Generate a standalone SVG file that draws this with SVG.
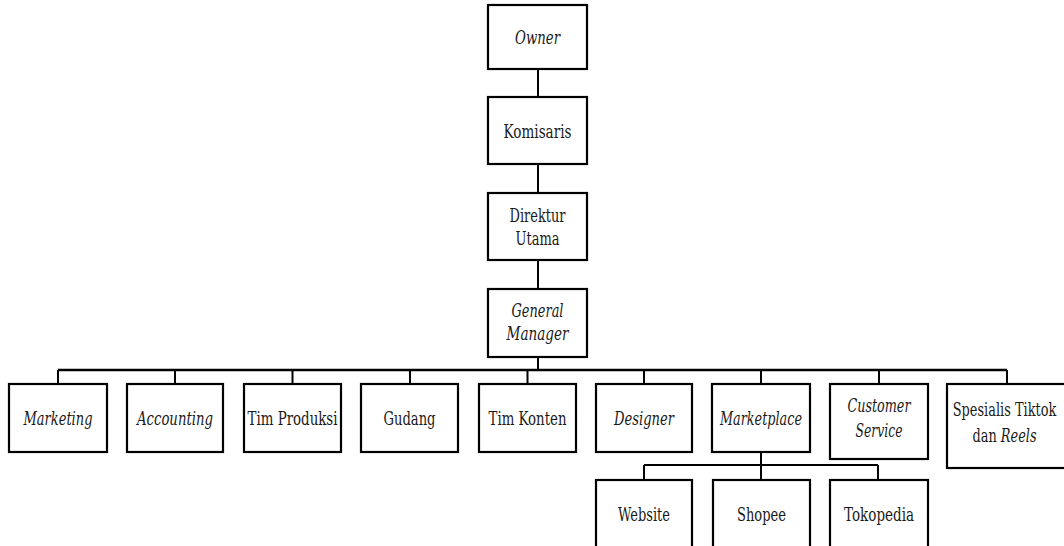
<svg xmlns="http://www.w3.org/2000/svg" width="1064" height="546" viewBox="0 0 1064 546">
<style>
  .box { fill: #ffffff; stroke: #000000; stroke-width: 2.2; }
  .ln { fill: none; stroke: #000000; stroke-width: 2; }
  .bus { fill: none; stroke: #000000; stroke-width: 2.6; }
  text { font-family: "DejaVu Serif", "Liberation Serif", serif; font-size: 19px; fill: #1a1a1a; text-anchor: middle; }
  .i { font-style: italic; }
</style>
<rect width="1064" height="546" fill="#ffffff"/>
<g id="connectors">
  <path class="ln" d="M538 69V97M538 164V193M538 260V289M538 357V370"/>
  <path class="bus" d="M58 370H1007"/>
  <path class="ln" d="M58 370V384M175 370V384M292.5 370V384M410 370V384M527.5 370V384M644 370V384M761 370V384M879 370V384M1007 370V384"/>
  <path class="ln" d="M761 452V480"/>
  <path class="ln" d="M644 465H878M644 465V480M878 465V480"/>
</g>
<g id="owner"><rect class="box" x="488" y="5" width="99" height="64"/><text class="i" x="537.5" y="44" textLength="45" lengthAdjust="spacingAndGlyphs">Owner</text></g>
<g id="komisaris"><rect class="box" x="488" y="97" width="99" height="67"/><text x="537.5" y="137.5" textLength="68" lengthAdjust="spacingAndGlyphs">Komisaris</text></g>
<g id="direktur-utama"><rect class="box" x="488" y="193" width="99" height="67"/><text x="537.5" y="222" textLength="56" lengthAdjust="spacingAndGlyphs">Direktur</text><text x="537.5" y="245" textLength="44" lengthAdjust="spacingAndGlyphs">Utama</text></g>
<g id="general-manager"><rect class="box" x="488" y="289" width="99" height="68"/><text class="i" x="537.5" y="317" textLength="52" lengthAdjust="spacingAndGlyphs">General</text><text class="i" x="537.5" y="340" textLength="62" lengthAdjust="spacingAndGlyphs">Manager</text></g>
<g id="marketing"><rect class="box" x="9" y="384" width="98" height="68"/><text class="i" x="58" y="425" textLength="69" lengthAdjust="spacingAndGlyphs">Marketing</text></g>
<g id="accounting"><rect class="box" x="127" y="384" width="96" height="68"/><text class="i" x="175" y="425" textLength="76" lengthAdjust="spacingAndGlyphs">Accounting</text></g>
<g id="tim-produksi"><rect class="box" x="244" y="384" width="97" height="68"/><text x="292.5" y="425" textLength="90" lengthAdjust="spacingAndGlyphs">Tim Produksi</text></g>
<g id="gudang"><rect class="box" x="361" y="384" width="97" height="68"/><text x="409.5" y="425" textLength="52" lengthAdjust="spacingAndGlyphs">Gudang</text></g>
<g id="tim-konten"><rect class="box" x="479" y="384" width="97" height="68"/><text x="527.5" y="425" textLength="78" lengthAdjust="spacingAndGlyphs">Tim Konten</text></g>
<g id="designer"><rect class="box" x="596" y="384" width="96" height="68"/><text class="i" x="644" y="425" textLength="60" lengthAdjust="spacingAndGlyphs">Designer</text></g>
<g id="marketplace"><rect class="box" x="712" y="384" width="98" height="68"/><text class="i" x="761" y="425" textLength="82" lengthAdjust="spacingAndGlyphs">Marketplace</text></g>
<g id="customer-service"><rect class="box" x="830" y="384" width="98" height="75"/><text class="i" x="879" y="412" textLength="63" lengthAdjust="spacingAndGlyphs">Customer</text><text class="i" x="879" y="437" textLength="47" lengthAdjust="spacingAndGlyphs">Service</text></g>
<g id="spesialis-tiktok"><rect class="box" x="947" y="384" width="121" height="84"/><text transform="translate(1004.5,416) scale(0.68,1)" x="0" y="0">Spesialis Tiktok</text><text transform="translate(1004.5,442) scale(0.68,1)" x="0" y="0">dan <tspan class="i">Reels</tspan></text></g>
<g id="website"><rect class="box" x="596" y="480" width="96" height="80"/><text x="644" y="521" textLength="52" lengthAdjust="spacingAndGlyphs">Website</text></g>
<g id="shopee"><rect class="box" x="713" y="480" width="97" height="80"/><text x="761.5" y="521" textLength="49" lengthAdjust="spacingAndGlyphs">Shopee</text></g>
<g id="tokopedia"><rect class="box" x="830" y="480" width="98" height="80"/><text x="879" y="521" textLength="70" lengthAdjust="spacingAndGlyphs">Tokopedia</text></g>
</svg>
